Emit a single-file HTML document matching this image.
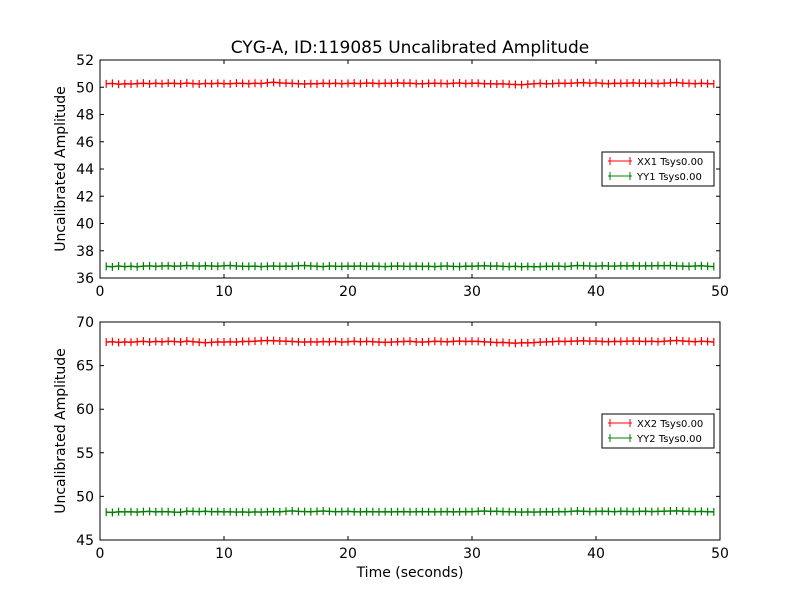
<!DOCTYPE html>
<html><head><meta charset="utf-8"><style>
body{margin:0;background:#fff;font-family:"DejaVu Sans","Liberation Sans",sans-serif}
svg text{font-family:"DejaVu Sans","Liberation Sans",sans-serif}
</style></head><body>
<svg id="c" width="800" height="600" xmlns="http://www.w3.org/2000/svg">
<rect width="800" height="600" fill="#fff"/>
<text x="410" y="53" font-size="17" text-anchor="middle">CYG-A, ID:119085 Uncalibrated Amplitude</text>
<text x="410" y="577" font-size="14" text-anchor="middle">Time (seconds)</text>
</svg>
<script>
const xTicks=[0,10,20,30,40,50];
const yTicksTop=[36,38,40,42,44,46,48,50,52];
const yTicksBot=[45,50,55,60,65,70];
const tStart=0.5, tStep=0.5;
const xx1=[50.25,50.28,50.22,50.26,50.24,50.27,50.3,50.25,50.29,50.26,50.3,50.28,50.25,50.31,50.27,50.24,50.28,50.26,50.29,50.27,50.25,50.3,50.28,50.26,50.29,50.27,50.33,50.36,50.32,50.3,50.28,50.26,50.24,50.27,50.25,50.29,50.27,50.3,50.26,50.28,50.3,50.27,50.31,50.29,50.27,50.3,50.28,50.32,50.29,50.3,50.27,50.25,50.28,50.3,50.28,50.26,50.29,50.31,50.27,50.3,50.29,50.26,50.25,50.24,50.26,50.22,50.2,50.18,50.22,50.26,50.28,50.25,50.27,50.3,50.28,50.3,50.32,50.34,50.3,50.33,50.28,50.26,50.3,50.28,50.3,50.32,50.3,50.28,50.3,50.27,50.3,50.32,50.35,50.3,50.28,50.26,50.3,50.27,50.25];
const yy1=[36.85,36.82,36.88,36.84,36.86,36.83,36.87,36.89,36.85,36.88,36.9,36.86,36.88,36.92,36.89,36.87,36.9,36.88,36.86,36.9,36.92,36.88,36.86,36.85,36.87,36.84,36.86,36.88,36.85,36.87,36.86,36.9,36.92,36.88,36.86,36.84,36.88,36.86,36.85,36.87,36.86,36.88,36.85,36.87,36.86,36.84,36.86,36.88,36.86,36.85,36.87,36.85,36.86,36.84,36.86,36.88,36.85,36.84,36.87,36.86,36.88,36.9,36.87,36.88,36.85,36.84,36.86,36.83,36.85,36.82,36.84,36.86,36.85,36.87,36.84,36.88,36.92,36.9,36.88,36.86,36.9,36.88,36.87,36.9,36.89,36.9,36.88,36.9,36.89,36.91,36.9,36.92,36.89,36.87,36.85,36.88,36.9,36.86,36.84];
const xx2=[67.7,67.75,67.65,67.72,67.68,67.74,67.8,67.7,67.78,67.72,67.8,67.76,67.7,67.82,67.74,67.68,67.62,67.66,67.72,67.7,67.74,67.7,67.78,67.76,67.8,67.84,67.88,67.86,67.82,67.8,67.76,67.72,67.7,67.74,67.7,67.76,67.72,67.78,67.7,67.74,67.8,67.72,67.78,67.74,67.7,67.66,67.7,67.74,67.76,67.8,67.72,67.7,67.74,67.8,67.76,67.72,67.78,67.82,67.76,67.8,67.78,67.72,67.7,67.64,67.66,67.6,67.56,67.62,67.6,67.64,67.7,67.72,67.75,67.8,67.76,67.8,67.82,67.84,67.8,67.82,67.76,67.74,67.78,67.76,67.8,67.82,67.8,67.76,67.8,67.74,67.8,67.84,67.88,67.82,67.78,67.74,67.8,67.76,67.7];
const yy2=[48.2,48.15,48.25,48.22,48.24,48.2,48.26,48.28,48.22,48.26,48.24,48.2,48.18,48.3,48.28,48.26,48.3,48.24,48.26,48.22,48.24,48.2,48.22,48.18,48.22,48.2,48.24,48.26,48.22,48.3,48.34,48.28,48.26,48.24,48.28,48.32,48.28,48.24,48.26,48.28,48.24,48.22,48.26,48.24,48.22,48.25,48.22,48.24,48.26,48.22,48.24,48.26,48.24,48.22,48.24,48.26,48.22,48.24,48.26,48.24,48.3,48.32,48.28,48.3,48.26,48.24,48.22,48.2,48.22,48.2,48.22,48.24,48.22,48.26,48.24,48.28,48.32,48.3,48.26,48.28,48.3,48.28,48.25,48.3,48.28,48.26,48.28,48.3,48.26,48.28,48.3,48.32,48.34,48.3,48.28,48.26,48.28,48.24,48.22];
const svg=document.getElementById('c');const NS='http://www.w3.org/2000/svg';
function mk(t,a,p){const e=document.createElementNS(NS,t);for(const k in a)e.setAttribute(k,a[k]);(p||svg).appendChild(e);return e;}
function panel(name,top,bot,ymin,ymax,yTicks,series,legY){
  const L=100,R=720;
  const xs=v=>L+(v-0)/(50-0)*(R-L);
  const ys=v=>bot-(v-ymin)/(ymax-ymin)*(bot-top);
  const g=mk('g',{});
  
  
  series.forEach(s=>{
    let d='';
    s.vals.forEach((v,i)=>{const x=xs(tStart+i*tStep),y=ys(v);d+=(i?'L':'M')+x.toFixed(1)+','+y.toFixed(1);});
    const ln=mk('path',{d:d,fill:'none',stroke:s.color,'stroke-width':1.5},g);
    
    
    let m='';
    s.vals.forEach((v,i)=>{const x=xs(tStart+i*tStep),y=ys(v);m+='M'+x.toFixed(1)+','+(y-4)+'V'+(y+4);});
    const mp=mk('path',{d:m,stroke:s.color,'stroke-width':1.2},g);
    
    
  });
  const fr=mk('rect',{x:L,y:top,width:R-L,height:bot-top,fill:'none',stroke:'#000','stroke-width':1},g);
  
  
  xTicks.forEach(v=>{const x=xs(v);
    mk('path',{d:`M${x},${bot}v-4M${x},${top}v4`,stroke:'#000'},g);
    const t=mk('text',{x:x,y:bot+18,'font-size':14,'text-anchor':'middle'},g);t.textContent=v;
    
    });
  yTicks.forEach(v=>{const y=ys(v);
    mk('path',{d:`M${L},${y}h4M${R},${y}h-4`,stroke:'#000'},g);
    const t=mk('text',{x:L-6,y:y+5,'font-size':14,'text-anchor':'end'},g);t.textContent=v;
    
    });
  const yt=mk('text',{x:0,y:0,'font-size':14,'text-anchor':'middle',transform:`translate(65,${(top+bot)/2}) rotate(-90)`},g);
  yt.textContent='Uncalibrated Amplitude';
  
  
  const lg=mk('g',{},g);
  
  
  mk('rect',{x:602,y:legY,width:112,height:34,fill:'#fff',stroke:'#000'},lg);
  series.forEach((s,i)=>{const y=legY+9+i*15;
    mk('path',{d:`M608,${y}h24M610,${y-4}v8M630,${y-4}v8`,stroke:s.color},lg);
    const t=mk('text',{x:637,y:y+4,'font-size':10},lg);t.textContent=s.label;
    
    });
}
panel('top-panel',60,278,36,52,yTicksTop,[{name:'xx1',vals:xx1,color:'#ff0000',label:'XX1 Tsys0.00'},{name:'yy1',vals:yy1,color:'#008000',label:'YY1 Tsys0.00'}],152);
panel('bottom-panel',322,540,45,70,yTicksBot,[{name:'xx2',vals:xx2,color:'#ff0000',label:'XX2 Tsys0.00'},{name:'yy2',vals:yy2,color:'#008000',label:'YY2 Tsys0.00'}],414);
</script>
</body></html>
